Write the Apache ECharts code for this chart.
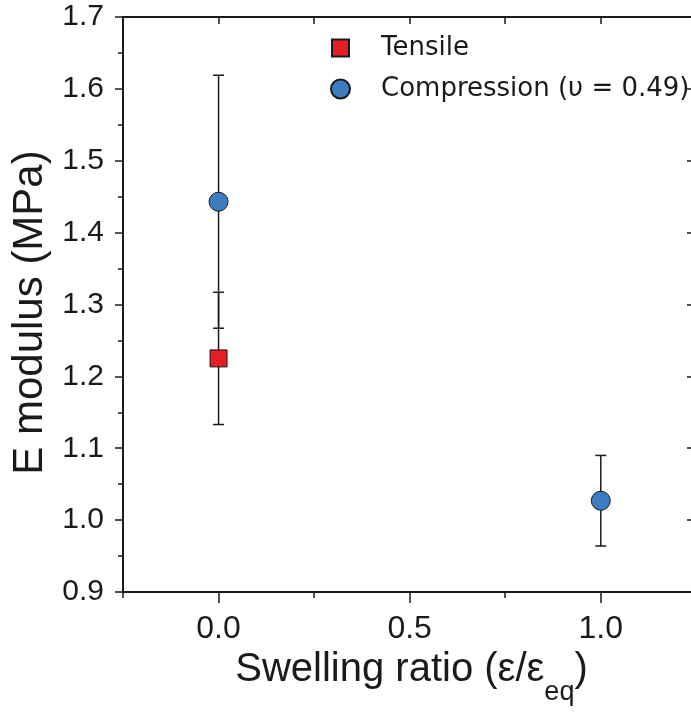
<!DOCTYPE html>
<html><head><meta charset="utf-8">
<script src="https://cdn.jsdelivr.net/npm/echarts@6/dist/echarts.min.js"></script>
<style>html,body{margin:0;padding:0;background:#fff}#c{width:691px;height:717px}</style>
</head><body><div id="c"></div>
<script>
// ---- data ----
const tensileX = [0];
const tensileY = [1.225];
const tensileErr = [0.092];
const compressionX = [0, 1];
const compressionY = [1.443, 1.027];
const compressionErr = [0.176, 0.063];
const xMajorTicks = [0, 0.5, 1];
const xMinorTicks = [-0.25, 0.25, 0.75];
const xTopTicks = [0, 0.25, 0.5, 0.75, 1];
const seriesNames = ['Tensile', 'Compression (υ = 0.49)'];
const xTitle = ['Swelling ratio (ε/ε', 'eq', ')'];
const yTitle = 'E modulus (MPa)';

const FF = '"Liberation Sans", Arial, sans-serif';
const INK = '#1a1a1a';
const X_MIN = -0.25, X_MAX = 1.236;

function rows(xs, ys, es) { return xs.map((x, i) => [x, ys[i], es[i]]); }

function errRender(params, api) {
  const x = api.value(0), y = api.value(1), e = api.value(2);
  const top = api.coord([x, y + e]), bot = api.coord([x, y - e]);
  const hw = 5.5;
  const st = { stroke: INK, lineWidth: 1.5 };
  return { type: 'group', children: [
    { type: 'line', shape: { x1: top[0], y1: top[1], x2: bot[0], y2: bot[1] }, style: st },
    { type: 'line', shape: { x1: top[0] - hw, y1: top[1], x2: top[0] + hw, y2: top[1] }, style: st },
    { type: 'line', shape: { x1: bot[0] - hw, y1: bot[1], x2: bot[0] + hw, y2: bot[1] }, style: st }
  ]};
}

const axLine = { show: true, onZero: false, lineStyle: { color: INK, width: 2 } };
const tickStyle = { color: INK, width: 1.5 };
const LEG_FONT = { fontFamily: '"DejaVu Sans", sans-serif', fontSize: 26, color: INK };

const chart = echarts.init(document.getElementById('c'), null, { renderer: 'canvas' });
chart.setOption({
  animation: false,
  backgroundColor: '#fff',
  grid: { left: 123, top: 17, width: 568, height: 575, containLabel: false },
  legend: [
    { data: [seriesNames[0]], left: 331, top: 35, padding: 0, itemWidth: 17, itemHeight: 17,
      textStyle: Object.assign({}, LEG_FONT, { padding: [0, 0, 0, 27] }) },
    { data: [seriesNames[1]], left: 330, top: 76, padding: 0, itemWidth: 19, itemHeight: 19,
      textStyle: Object.assign({}, LEG_FONT, { padding: [0, 0, 0, 26] }) }
  ],
  xAxis: [
    { type: 'value', position: 'bottom', min: X_MIN, max: X_MAX,
      axisLine: axLine,
      axisTick: { show: true, customValues: xMajorTicks, length: 11, lineStyle: tickStyle },
      axisLabel: { customValues: xMajorTicks, formatter: v => v.toFixed(1), fontSize: 32, margin: 21, color: INK, fontFamily: FF },
      splitLine: { show: false },
      name: '{a|' + xTitle[0] + '}{b|' + xTitle[1] + '}{a|' + xTitle[2] + '}',
      nameLocation: 'middle', nameGap: 42,
      nameTextStyle: { fontFamily: FF, color: INK, padding: [0, 0, 0, 9],
        rich: { a: { fontSize: 40, lineHeight: 72, fontFamily: FF, color: INK },
                b: { fontSize: 27, verticalAlign: 'bottom', fontFamily: FF, color: INK } } } },
    { type: 'value', position: 'bottom', min: X_MIN, max: X_MAX,
      axisLine: { show: false, onZero: false },
      axisTick: { show: true, customValues: xMinorTicks, length: 6, lineStyle: tickStyle },
      axisLabel: { show: false }, splitLine: { show: false } },
    { type: 'value', position: 'top', min: X_MIN, max: X_MAX,
      axisLine: axLine,
      axisTick: { show: true, inside: true, customValues: xTopTicks, length: 7, lineStyle: tickStyle },
      axisLabel: { show: false }, splitLine: { show: false } }
  ],
  yAxis: [
    { type: 'value', position: 'left', min: 0.9, max: 1.7, interval: 0.1,
      axisLine: axLine,
      axisTick: { show: true, length: 8, lineStyle: tickStyle },
      minorTick: { show: true, splitNumber: 2, length: 5, lineStyle: tickStyle },
      axisLabel: { formatter: v => v.toFixed(1), fontSize: 30, margin: 19, color: INK, fontFamily: FF },
      splitLine: { show: false }, minorSplitLine: { show: false },
      name: yTitle, nameLocation: 'middle', nameGap: 59,
      nameTextStyle: { fontSize: 42, fontFamily: FF, color: INK, padding: [0, 16, 0, 0] } },
    { type: 'value', position: 'right', min: 0.9, max: 1.7, interval: 0.1,
      axisLine: { show: false, onZero: false },
      axisTick: { show: true, inside: true, length: 4, lineStyle: tickStyle },
      axisLabel: { show: false }, splitLine: { show: false } }
  ],
  series: [
    { type: 'custom', xAxisIndex: 0, yAxisIndex: 0, renderItem: errRender,
      encode: { x: 0, y: 1 }, data: rows(tensileX, tensileY, tensileErr), z: 1, silent: true },
    { type: 'custom', xAxisIndex: 0, yAxisIndex: 0, renderItem: errRender,
      encode: { x: 0, y: 1 }, data: rows(compressionX, compressionY, compressionErr), z: 1, silent: true },
    { name: seriesNames[0], type: 'scatter', xAxisIndex: 0, yAxisIndex: 0, symbol: 'rect', symbolSize: 17,
      itemStyle: { color: '#e31e24', borderColor: INK, borderWidth: 1, opacity: 1 },
      data: tensileX.map((x, i) => [x, tensileY[i]]), z: 3 },
    { name: seriesNames[1], type: 'scatter', xAxisIndex: 0, yAxisIndex: 0, symbol: 'circle', symbolSize: 19,
      itemStyle: { color: '#3b7dc0', borderColor: INK, borderWidth: 1, opacity: 1 },
      data: compressionX.map((x, i) => [x, compressionY[i]]), z: 3 }
  ]
});
</script>
</body></html>
